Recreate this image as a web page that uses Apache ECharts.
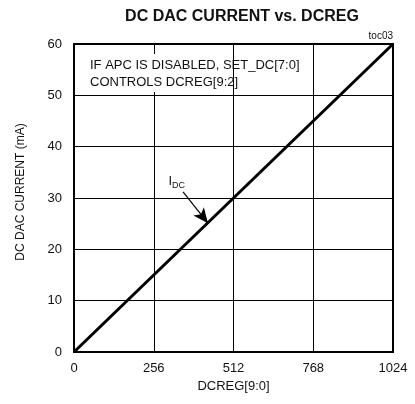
<!DOCTYPE html>
<html>
<head>
<meta charset="utf-8">
<script src="https://cdn.jsdelivr.net/npm/echarts@6/dist/echarts.min.js"></script>
<style>html,body{margin:0;padding:0;background:#fff}#c{width:415px;height:404px}</style>
</head>
<body>
<div id="c"></div>
<script>
const FONT = "'Liberation Sans Narrow', 'Arial Narrow', 'Liberation Sans', Arial, sans-serif";
const xTicks = [0, 256, 512, 768, 1024];
const yTicks = [0, 10, 20, 30, 40, 50, 60];
const dcregValues = [0, 1024];
const idcValues = [0, 60];
const arrowTail = [350, 31.2];
const arrowTip = [430, 25.1];
const labelPos = [330, 33.2];

const chart = echarts.init(document.getElementById('c'), null, {renderer: 'canvas'});
chart.setOption({
  animation: false,
  title: {
    text: 'DC DAC CURRENT vs. DCREG',
    left: 237, top: 4, textAlign: 'center',
    textStyle: {fontFamily: FONT, fontSize: 16, fontWeight: 'bold', color: '#111'}
  },
  grid: {left: 74, right: 22, top: 44, bottom: 52, show: true, borderColor: '#000', borderWidth: 2, backgroundColor: 'transparent'},
  xAxis: {
    type: 'value', min: 0, max: 1024, interval: 256,
    name: 'DCREG[9:0]', nameLocation: 'middle', nameGap: 25,
    nameTextStyle: {fontFamily: FONT, fontSize: 13, color: '#111'},
    axisLine: {show: false}, axisTick: {show: false},
    axisLabel: {fontFamily: FONT, fontSize: 13, color: '#111', margin: 10, formatter: v => String(v)},
    splitLine: {show: true, lineStyle: {color: '#000', width: 1}}
  },
  yAxis: {
    type: 'value', min: 0, max: 60, interval: 10,
    name: 'DC DAC CURRENT (mA)', nameLocation: 'middle', nameGap: 47, nameRotate: 90,
    nameTextStyle: {fontFamily: FONT, fontSize: 12, color: '#111', padding: [0, 0, 0, 12]},
    axisLine: {show: false}, axisTick: {show: false},
    axisLabel: {fontFamily: FONT, fontSize: 13, color: '#111', margin: 12},
    splitLine: {show: true, lineStyle: {color: '#000', width: 1}}
  },
  graphic: [
    {type: 'rect', shape: {x: 76, y: 54, width: 140, height: 38}, style: {fill: '#fff'}, z: 5},
    {type: 'text', left: 90, top: 57, z: 10, style: {text: 'IF APC IS DISABLED, SET_DC[7:0]\nCONTROLS DCREG[9:2]', font: '13px ' + FONT, fill: '#111', lineHeight: 17}},
    {type: 'text', right: 22, top: 31, z: 10, style: {text: 'toc03', font: '10px ' + FONT, fill: '#111', textAlign: 'right'}}
  ],
  series: [
    {
      type: 'line', data: dcregValues.map((v, i) => [v, idcValues[i]]),
      symbol: 'none', lineStyle: {color: '#000', width: 3}, z: 8,
      markLine: {
        silent: true, symbol: ['none', 'arrow'], symbolSize: [10, 15],
        lineStyle: {color: '#000', width: 1.2, type: 'solid'},
        label: {show: false},
        data: [[{coord: arrowTail}, {coord: arrowTip}]]
      },
      markPoint: {
        silent: true, symbol: 'circle', symbolSize: 0,
        data: [{coord: labelPos}],
        label: {show: true, position: 'inside', formatter: '{a|I}{b|DC}',
          rich: {a: {fontFamily: FONT, fontSize: 13, color: '#111'}, b: {fontFamily: FONT, fontSize: 9, color: '#111', verticalAlign: 'bottom', padding: [8, 0, 0, 0]}}}
      }
    }
  ]
});
</script>
</body>
</html>
